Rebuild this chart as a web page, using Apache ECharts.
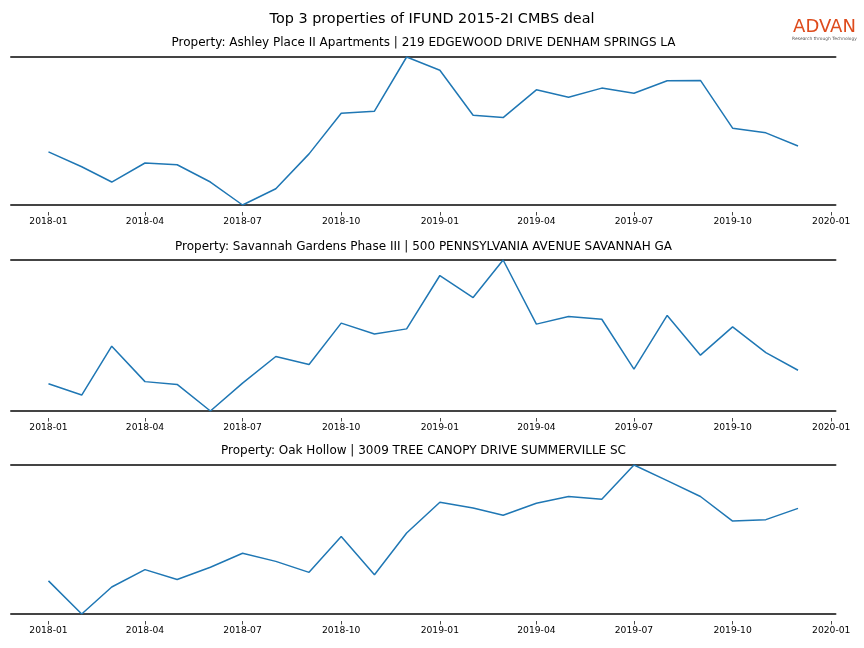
<!DOCTYPE html>
<html>
<head>
<meta charset="utf-8">
<script src="https://cdn.jsdelivr.net/npm/echarts@6/dist/echarts.min.js"></script>
<style>
html,body{margin:0;padding:0;background:#fff;}
#chart{width:864px;height:648px;}
</style>
</head>
<body>
<div id="chart"></div>
<script>
var months = ['2018-01','2018-02','2018-03','2018-04','2018-05','2018-06','2018-07','2018-08','2018-09','2018-10','2018-11','2018-12',
              '2019-01','2019-02','2019-03','2019-04','2019-05','2019-06','2019-07','2019-08','2019-09','2019-10','2019-11','2019-12'];
var tickLabels = ['2018-01','2018-04','2018-07','2018-10','2019-01','2019-04','2019-07','2019-10','2020-01'];
var mainTitle = 'Top 3 properties of IFUND 2015-2I CMBS deal';
var panelTitles = [
  'Property: Ashley Place II Apartments | 219 EDGEWOOD DRIVE DENHAM SPRINGS LA',
  'Property: Savannah Gardens Phase III | 500 PENNSYLVANIA AVENUE SAVANNAH GA',
  'Property: Oak Hollow | 3009 TREE CANOPY DRIVE SUMMERVILLE SC'
];
var ashleyVals = [52.7, 38.0, 23.0, 41.7, 40.0, 23.0, 0.4, 16.4, 50.7, 90.7, 92.7, 146.0,
                  133.0, 88.7, 86.4, 113.7, 106.4, 115.4, 110.4, 122.7, 123.0, 76.0, 71.4, 58.4];
var savannahVals = [28.4, 17.4, 64.7, 30.4, 27.7, 2.0, 29.0, 54.7, 47.0, 87.0, 76.4, 81.4,
                    133.0, 111.7, 148.0, 86.0, 93.4, 90.7, 42.4, 94.4, 56.0, 83.4, 58.4, 41.4];
var oakVals = [33.7, 1.4, 27.7, 44.7, 35.0, 47.0, 60.7, 52.7, 42.0, 77.0, 39.7, 80.4,
               110.4, 104.7, 97.7, 109.4, 116.0, 113.4, 146.7, 131.4, 116.0, 92.0, 93.4, 104.4];

var seriesVals = [ashleyVals, savannahVals, oakVals];
var FONT = 'DejaVu Sans';

function ts(str) { var p = str.split('-'); return Date.UTC(+p[0], +p[1] - 1, p[2] ? +p[2] : 1); }
var first = ts(months[0]), last = ts(months[months.length - 1]);
var pad = 0.05 * (last - first);
var xMin = first - pad;
var xMax = last + pad;
var tickValues = tickLabels.map(function (s) { return ts(s); });
function fmt(v) { var d = new Date(v); var m = d.getUTCMonth() + 1; return d.getUTCFullYear() + '-' + (m < 10 ? '0' + m : m); }

var grids = [
  {left: 11, right: 28.5, top: 57, height: 148},
  {left: 11, right: 28.5, top: 260, height: 151},
  {left: 11, right: 28.5, top: 465, height: 149}
];
var xAxes = [], yAxes = [], series = [];
grids.forEach(function (g, i) {
  xAxes.push({type: 'value', gridIndex: i, position: 'bottom', min: xMin, max: xMax,
    axisLine: {show: true, onZero: false, lineStyle: {color: '#444', width: 2}},
    axisTick: {show: false}, axisLabel: {show: false}, splitLine: {show: false}});
  xAxes.push({type: 'value', gridIndex: i, position: 'top', min: xMin, max: xMax,
    axisLine: {show: true, onZero: false, lineStyle: {color: '#444', width: 2}},
    axisTick: {show: false}, axisLabel: {show: false}, splitLine: {show: false}});
  xAxes.push({type: 'value', gridIndex: i, position: 'bottom', offset: 7, min: xMin, max: xMax,
    axisLine: {show: false, onZero: false},
    axisTick: {show: true, length: 3.5, customValues: tickValues, lineStyle: {color: '#333', width: 0.9}},
    axisLabel: {show: true, customValues: tickValues, margin: 5.5, fontSize: 9.2, color: '#000', fontFamily: FONT,
      showMinLabel: true, showMaxLabel: true, hideOverlap: false,
      formatter: function (v) { return fmt(v); }},
    splitLine: {show: false}});
  yAxes.push({type: 'value', gridIndex: i, min: 'dataMin', max: 'dataMax', show: false, scale: true});
  series.push({type: 'line', xAxisIndex: i * 3, yAxisIndex: i, showSymbol: false, symbol: 'none',
    lineStyle: {color: '#1f77b4', width: 1.5}, itemStyle: {color: '#1f77b4'},
    data: months.map(function (m, k) { return [ts(m), seriesVals[i][k]]; })});
});

var graphics = [
  {type: 'text', x: 432, y: 19.5, style: {text: mainTitle, font: '14.4px "DejaVu Sans"', fill: '#000', textAlign: 'center', textVerticalAlign: 'middle'}},
  {type: 'text', x: 423.5, y: 42.5, style: {text: panelTitles[0], font: '12px "DejaVu Sans"', fill: '#000', textAlign: 'center', textVerticalAlign: 'middle'}},
  {type: 'text', x: 423.5, y: 246.5, style: {text: panelTitles[1], font: '12px "DejaVu Sans"', fill: '#000', textAlign: 'center', textVerticalAlign: 'middle'}},
  {type: 'text', x: 423.5, y: 450.5, style: {text: panelTitles[2], font: '12px "DejaVu Sans"', fill: '#000', textAlign: 'center', textVerticalAlign: 'middle'}},
  {type: 'text', x: 824.5, y: 27, style: {text: 'ADVAN', font: '500 18px "DejaVu Sans"', fill: '#de4b1c', textAlign: 'center', textVerticalAlign: 'middle'}},
  {type: 'text', x: 824.5, y: 38.5, style: {text: 'Research through Technology', font: '4.4px "DejaVu Sans"', fill: '#555', textAlign: 'center', textVerticalAlign: 'middle'}}
];

var chart = echarts.init(document.getElementById('chart'), null, {renderer: 'canvas'});
chart.setOption({
  animation: false,
  backgroundColor: '#fff',
  grid: grids,
  xAxis: xAxes,
  yAxis: yAxes,
  series: series,
  graphic: graphics
});
</script>
</body>
</html>
